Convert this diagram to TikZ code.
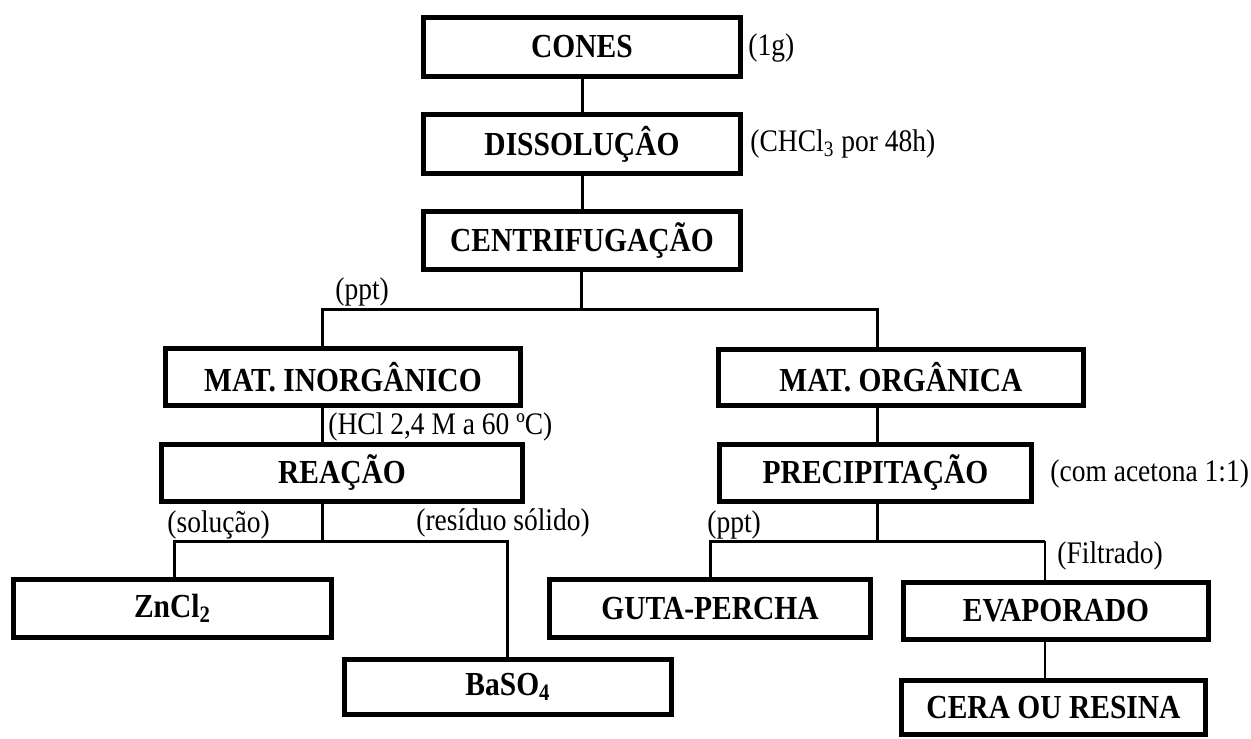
\documentclass[tikz,border=0pt]{standalone}
\usepackage{fontspec}
\setmainfont{Liberation Serif}
\usepackage{tikz}
\usetikzlibrary{positioning,calc}
\newcommand{\boxfont}{\fontsize{14.75}{17}\selectfont\bfseries}
\newcommand{\notefont}{\fontsize{13.75}{16}\selectfont}
\newcommand{\tall}[1]{\scalebox{1}[1.14]{#1}}

\begin{document}
\begin{tikzpicture}[x=0.5pt,y=-0.5pt,
  stage/.style={draw, line width=2.4pt, inner sep=0pt, align=center, font=\boxfont},
  note/.style={inner sep=0pt, anchor=west, font=\notefont},
  link/.style={line width=1.5pt},
  thinlink/.style={line width=0.7pt}]
\useasboundingbox (0,0) rectangle (1251,738);
\node[stage, minimum width=158.7pt, minimum height=29.7pt] (cones) at (582,47) {\tall{CONES}};
\node[stage, minimum width=158.7pt, minimum height=29.7pt] (dissol) at (582,144) {\tall{DISSOLUÇÂO}};
\node[stage, minimum width=158.7pt, minimum height=29.2pt] (centrif) at (582,240.5) {\tall{CENTRIFUGAÇÃO}};
\node[stage, minimum width=177.7pt, minimum height=28.7pt] (inorg) at (343,377) {\tall{MAT. INORGÂNICO}};
\node[stage, minimum width=182.7pt, minimum height=28.2pt] (org) at (901,377.5) {\tall{MAT. ORGÂNICA}};
\node[stage, minimum width=180.7pt, minimum height=28.7pt] (reacao) at (342,473) {\tall{REAÇÃO}};
\node[stage, minimum width=156.2pt, minimum height=28.7pt] (precip) at (875.5,473) {\tall{PRECIPITAÇÃO}};
\node[stage, minimum width=159.2pt, minimum height=29.2pt] (zncl) at (172.5,608.5) {\tall{ZnCl\textsubscript{2}}};
\node[stage, minimum width=163.7pt, minimum height=27.7pt] (baso) at (508,687) {\tall{BaSO\textsubscript{4}}};
\node[stage, minimum width=160.7pt, minimum height=29.2pt] (guta) at (710,608.5) {\tall{GUTA-PERCHA}};
\node[stage, minimum width=152.7pt, minimum height=28.7pt] (evap) at (1056,611) {\tall{EVAPORADO}};
\node[stage, minimum width=152.2pt, minimum height=27.2pt] (cera) at (1053.5,707.5) {\tall{CERA OU RESINA}};

\node[note] (n1g) at (748,48) {\tall{(1g)}};
\node[note] (nchcl) at (750,144) {\tall{(CHCl\textsubscript{3} por 48h)}};
\node[note] (nppt1) at (335,292) {\tall{(ppt)}};
\node[note] (nhcl) at (328,427) {\tall{(HCl 2,4 M a 60 ºC)}};
\node[note] (nsol) at (167,525) {\tall{(solução)}};
\node[note] (nres) at (416,523) {\tall{(resíduo sólido)}};
\node[note] (nppt2) at (707,525) {\tall{(ppt)}};
\node[note] (nfilt) at (1057,556) {\tall{(Filtrado)}};
\node[note] (nacet) at (1050,474) {\tall{(com acetona 1:1)}};

\coordinate (b1) at (581,309);
\coordinate (b1l) at (322,309);
\coordinate (b1r) at (877,309);
\coordinate (b2) at (322,541);
\coordinate (b2l) at (174,541);
\coordinate (b2r) at (507,541);
\coordinate (b3) at (877,541);
\coordinate (b3l) at (710,541);
\coordinate (b3r) at (1045,541);

\draw[link] (cones) -- (dissol);
\draw[link] (dissol) -- (centrif);
\draw[link] (centrif.south -| b1) -- (b1);
\draw[link] (inorg.north -| b1l) |- (b1r) -- (org.north -| b1r);
\draw[link] (inorg.south -| b1l) -- (reacao.north -| b1l);
\draw[link] (org.south -| b1r) -- (precip.north -| b1r);
\draw[link] (reacao.south -| b2) -- (b2);
\draw[link] (zncl.north -| b2l) |- (b2r) -- (baso.north -| b2r);
\draw[link] (precip.south -| b3) -- (b3);
\draw[link] (guta.north -| b3l) |- (b3r);
\draw[thinlink] (b3r) -- (evap.north -| b3r);
\draw[thinlink] (evap.south -| b3r) -- (cera.north -| b3r);
\end{tikzpicture}
\end{document}
